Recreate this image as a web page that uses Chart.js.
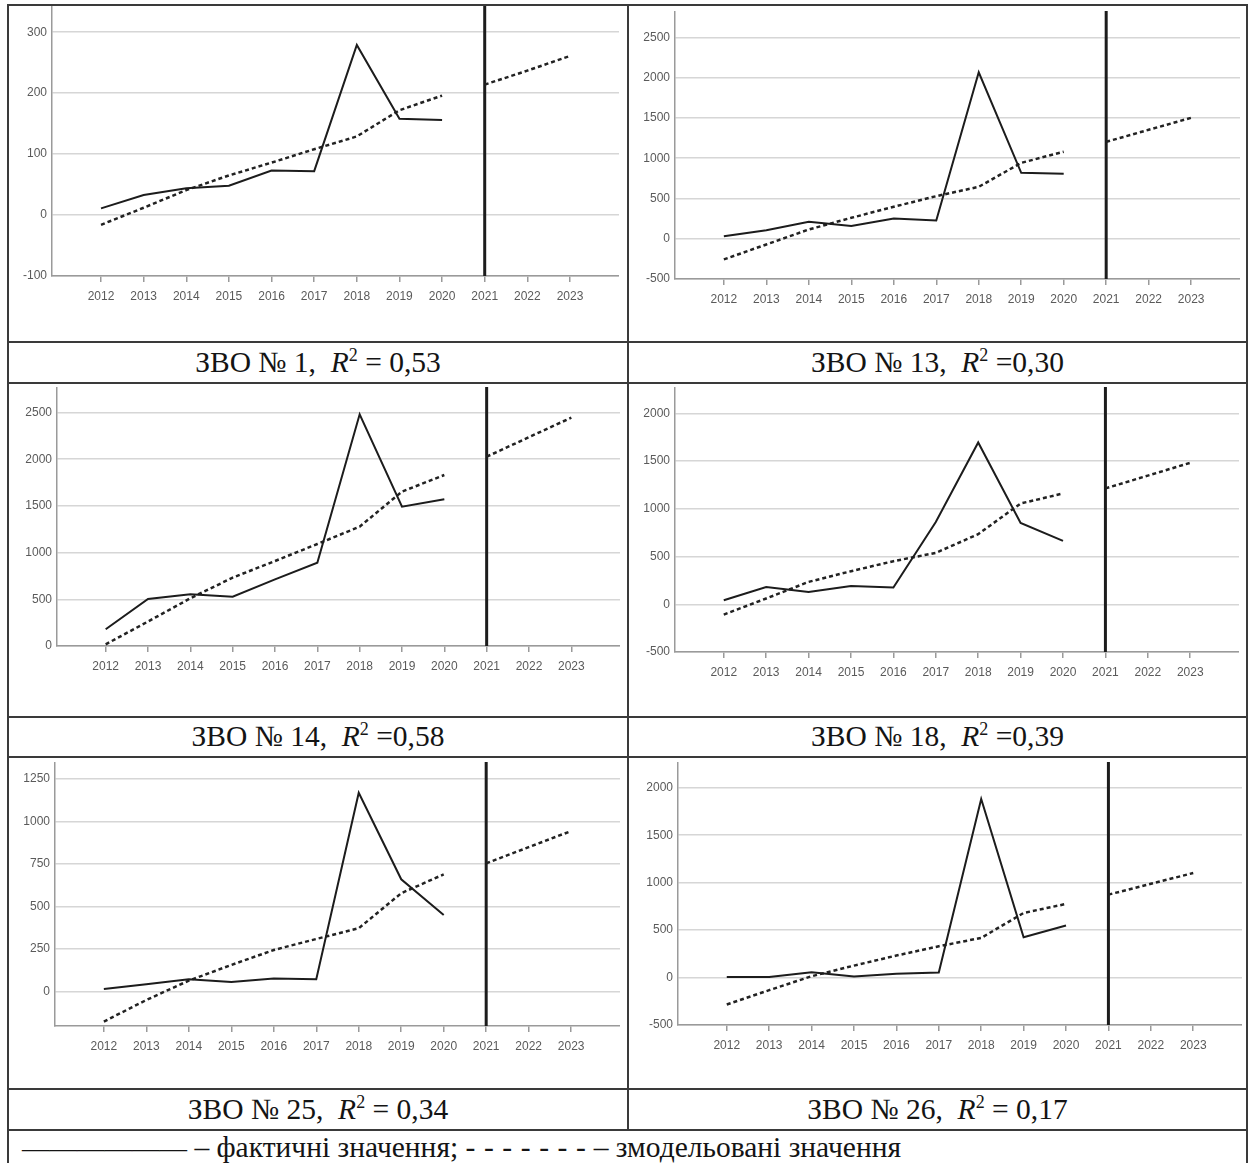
<!DOCTYPE html>
<html lang="uk">
<head>
<meta charset="utf-8">
<title>ЗВО – фактичні та змодельовані значення</title>
<script src="https://cdn.jsdelivr.net/npm/chart.js@4.4.1/dist/chart.umd.min.js"></script>
<style>
  html, body { margin: 0; padding: 0; background: #fff; }
  #page { position: relative; width: 1248px; height: 1163px; overflow: hidden; background: #fff; }
  .rule { position: absolute; background: #3a3a3a; z-index: 5; }
  .plot { position: absolute; }
  .caption, .legend {
    position: absolute; display: flex; align-items: center;
    font-family: 'Liberation Serif', 'Times New Roman', serif; font-size: 29.5px;
    line-height: 1; color: #141414; white-space: pre;
  }
  .caption { justify-content: center; }
  .caption sup { font-size: 18px; vertical-align: 11px; line-height: 0; }
  .legend .solid { font-size: 27.5px; }
  .legend .dash { letter-spacing: 0.6px; }
</style>
</head>
<body>
<div id="page"></div>
<script>
// 1. DATA
const YEARS = [2012, 2013, 2014, 2015, 2016, 2017, 2018, 2019, 2020, 2021, 2022, 2023];
const FORECAST_START = 2021;

const actual1   = [11, 33, 44, 48, 73, 72, 279, 158, 156];
const modeled1  = [-16, 12, 41, 65, 86, 108, 129, 172, 196, 214, 237, 261];
const actual13  = [32, 105, 211, 157, 252, 227, 2068, 819, 807];
const modeled13 = [-257, -71, 115, 260, 397, 529, 645, 943, 1080, 1204, 1353, 1502];
const actual14  = [179, 503, 553, 528, 714, 892, 2481, 1492, 1571];
const modeled14 = [18, 262, 511, 732, 910, 1092, 1278, 1653, 1831, 2027, 2236, 2445];
const actual18  = [42, 181, 129, 192, 175, 862, 1694, 852, 663];
const modeled18 = [-108, 60, 234, 346, 451, 538, 734, 1055, 1160, 1213, 1347, 1481];
const actual25  = [16, 43, 73, 57, 77, 73, 1170, 661, 451];
const modeled25 = [-176, -49, 65, 157, 245, 310, 373, 579, 690, 755, 850, 945];
const actual26  = [7, 7, 56, 11, 39, 53, 1882, 424, 548];
const modeled26 = [-284, -133, 14, 126, 232, 330, 418, 681, 776, 874, 988, 1102];

const UNIT_NAMES = ['ЗВО № 1', 'ЗВО № 13', 'ЗВО № 14', 'ЗВО № 18', 'ЗВО № 25', 'ЗВО № 26'];
const R2_TEXT    = ['\u00a0= 0,53', '\u00a0=0,30', '\u00a0=0,58', '\u00a0=0,39', '\u00a0= 0,34', '\u00a0= 0,17'];
const Y_MIN  = [-100, -500, 0, -500, -202, -500];
const Y_MAX  = [343, 2829, 2773, 2275, 1351, 2272];
const Y_STEP = [100, 500, 500, 500, 250, 500];

const SERIES = [
  [actual1, modeled1], [actual13, modeled13], [actual14, modeled14],
  [actual18, modeled18], [actual25, modeled25], [actual26, modeled26]
];

// 2. LAYOUT (plot rectangles: left axis x, top, right, x-axis y)
const PLOTS = [
  [52, 6, 619, 276], [675, 11, 1240, 279], [57, 387, 620, 646],
  [675, 387, 1239, 652], [55, 762, 620, 1026], [678, 762, 1242, 1025]
];
const CAPTION_ROWS = [[342, 383], [717, 757], [1089, 1130]];
const COLS = [[8, 628], [628, 1247]];
const Y_AXIS_W = 46, X_AXIS_H = 30;

document.addEventListener('DOMContentLoaded', () => {
  const page = document.getElementById('page');

  const rule = (x, y, w, h) => {
    const d = document.createElement('div');
    d.className = 'rule';
    Object.assign(d.style, { left: x + 'px', top: y + 'px', width: w + 'px', height: h + 'px' });
    page.appendChild(d);
  };

  // table frame
  rule(7, 4, 1241, 2);
  [341, 382, 716, 756, 1088, 1129].forEach(y => rule(7, y, 1241, 2));
  rule(7, 4, 2, 1170);
  rule(1246, 4, 2, 1170);
  rule(627, 4, 2, 1127);

  // captions
  UNIT_NAMES.forEach((name, i) => {
    const row = CAPTION_ROWS[Math.floor(i / 2)], col = COLS[i % 2];
    const d = document.createElement('div');
    d.className = 'caption';
    Object.assign(d.style, { left: col[0] + 'px', width: (col[1] - col[0]) + 'px', top: row[0] + 'px', height: (row[1] - row[0]) + 'px' });
    d.innerHTML = '<span>' + name + ',\u00a0 <i>R</i><sup>2</sup>' + R2_TEXT[i] + '</span>';
    page.appendChild(d);
  });

  // legend row
  const lg = document.createElement('div');
  lg.className = 'legend';
  Object.assign(lg.style, { left: '22px', top: '1131px', height: '33px' });
  lg.innerHTML = '<span><span class="solid">——————</span> – фактичні значення; <span class="dash">- - - - - - -</span> – змодельовані значення</span>';
  page.appendChild(lg);

  // 3. CHARTS
  Chart.defaults.font.family = "'Liberation Sans', Arial, sans-serif";
  Chart.defaults.font.size = 12;
  Chart.defaults.color = '#5a5a5a';
  Chart.defaults.animation = false;

  const toPoints = (years, values) => values.map((v, i) => ({ x: years[i], y: v }));

  const initChart = (i) => {
    const [left, top, right, bottom] = PLOTS[i];
    const [actual, modeled] = SERIES[i];
    const yMin = Y_MIN[i], yMax = Y_MAX[i], step = Y_STEP[i];

    const box = document.createElement('div');
    box.className = 'plot';
    Object.assign(box.style, {
      left: (left - Y_AXIS_W) + 'px', top: top + 'px',
      width: (right - left + Y_AXIS_W) + 'px', height: (bottom - top + X_AXIS_H) + 'px'
    });
    const canvas = document.createElement('canvas');
    box.appendChild(canvas);
    page.appendChild(box);

    const fitYears = YEARS.slice(0, actual.length);
    const dotted = { borderColor: '#222', borderWidth: 2.5, borderDash: [4, 3], pointRadius: 0, tension: 0 };

    return new Chart(canvas, {
      type: 'line',
      data: {
        datasets: [
          { data: toPoints(fitYears, actual), borderColor: '#1c1c1c', borderWidth: 2, pointRadius: 0, tension: 0 },
          Object.assign({ data: toPoints(fitYears, modeled.slice(0, actual.length)) }, dotted),
          Object.assign({ data: toPoints(YEARS.slice(actual.length), modeled.slice(actual.length)) }, dotted),
          { data: [{ x: FORECAST_START, y: yMin }, { x: FORECAST_START, y: yMax }], borderColor: '#1c1c1c', borderWidth: 3, pointRadius: 0 }
        ]
      },
      options: {
        responsive: true,
        maintainAspectRatio: false,
        layout: { padding: 0 },
        plugins: { legend: { display: false }, tooltip: { enabled: false } },
        scales: {
          x: {
            type: 'linear',
            min: YEARS[0] - 1.15,
            max: YEARS[YEARS.length - 1] + 1.15,
            afterBuildTicks: s => { s.ticks = YEARS.map(v => ({ value: v })); },
            afterFit: s => { s.height = X_AXIS_H; s.paddingLeft = 0; s.paddingRight = 0; },
            ticks: { callback: v => String(v), padding: 7, maxRotation: 0, autoSkip: false },
            grid: { drawOnChartArea: false, drawTicks: true, tickLength: 6, color: '#9a9a9a', lineWidth: 1.5 },
            border: { display: true, color: '#9a9a9a', width: 1.5 }
          },
          y: {
            min: yMin,
            max: yMax,
            afterBuildTicks: s => {
              const t = [];
              for (let v = Math.ceil(yMin / step) * step; v <= yMax; v += step) t.push({ value: v });
              s.ticks = t;
            },
            afterFit: s => { s.width = Y_AXIS_W; s.paddingTop = 0; s.paddingBottom = 0; },
            ticks: { callback: v => String(v), padding: 5 },
            grid: { drawTicks: false, color: '#d6d6d6', lineWidth: 1.5 },
            border: { display: true, color: '#9a9a9a', width: 1.5 }
          }
        }
      }
    });
  };

  SERIES.forEach((_, i) => initChart(i));
});
</script>
</body>
</html>
